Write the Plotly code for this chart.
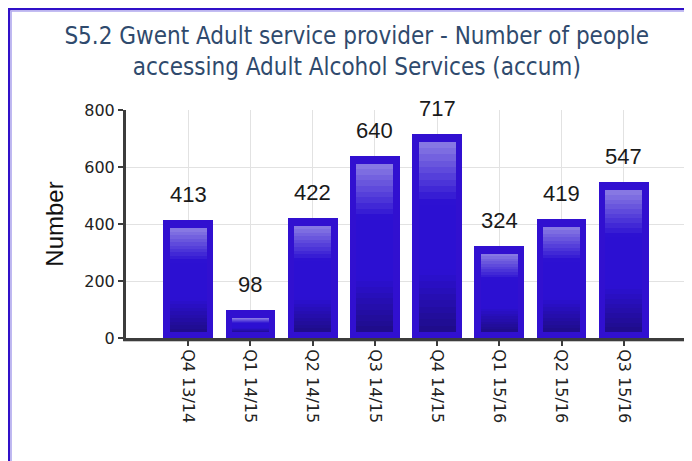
import plotly.graph_objects as go

quarters = ["Q4 13/14", "Q1 14/15", "Q2 14/15", "Q3 14/15",
            "Q4 14/15", "Q1 15/16", "Q2 15/16", "Q3 15/16"]
people = [413, 98, 422, 640, 717, 324, 419, 547]

TITLE = "S5.2 Gwent Adult service provider - Number of people<br>accessing Adult Alcohol Services (accum)"
Y_TITLE = "Number"

OUTER = "#3110d0"
DARK = (30, 12, 136)
MID = (44, 16, 210)
LIGHT = (140, 126, 228)

# px -> data units: plot is 228px tall for 800
UNIT = 800 / 228
INSET_TOP = 8 * UNIT
INSET_BOT = 6 * UNIT
N_SEG = 30


def mix(a, b, t):
    return "rgb(%d,%d,%d)" % tuple(round(a[i] + (b[i] - a[i]) * t) for i in range(3))


def seg_color(t):
    # t: 0 at bottom of inner bar, 1 at top
    if t < 0.32:
        return mix(DARK, MID, t / 0.32)
    if t < 0.68:
        return mix(MID, MID, 0)
    return mix(MID, LIGHT, (t - 0.68) / 0.32)


fig = go.Figure()
fig.add_trace(go.Bar(
    x=quarters, y=people, width=0.8,
    marker=dict(color=OUTER, line_width=0),
    hoverinfo="x+y", showlegend=False,
))

inner_base = [INSET_BOT for v in people]
inner_h = [max(v - INSET_TOP - INSET_BOT, 0) for v in people]
for k in range(N_SEG):
    fig.add_trace(go.Bar(
        x=quarters,
        y=[h / N_SEG for h in inner_h],
        base=[b + h * k / N_SEG for b, h in zip(inner_base, inner_h)],
        width=0.595,
        marker=dict(color=seg_color((k + 0.5) / N_SEG), line_width=0),
        hoverinfo="skip", showlegend=False,
    ))

for q, v in zip(quarters, people):
    fig.add_annotation(
        x=q, y=v, text=str(v), showarrow=False, yanchor="bottom", yshift=11,
        font=dict(family="Liberation Sans, Arial", size=22, color="#1a1a1a"),
    )

# outer frame (blue, with a light inner edge)
fig.add_shape(type="rect", xref="paper", yref="paper",
              x0=-0.2089, x1=1.1, y0=-0.7, y1=1.443,
              line=dict(color="#3010c8", width=2.5), layer="above")
fig.add_shape(type="rect", xref="paper", yref="paper",
              x0=-0.2050, x1=1.1, y0=-0.7, y1=1.434,
              line=dict(color="#b0a8ee", width=1.2), layer="above")
# right edge of the plot area
fig.add_shape(type="line", xref="paper", yref="paper",
              x0=1, x1=1, y0=0, y1=1,
              line=dict(color="#e2e2e2", width=1), layer="below")
# light shadow under the x axis
fig.add_shape(type="line", xref="paper", yref="paper",
              x0=-0.005, x1=1, y0=-0.013, y1=-0.013,
              line=dict(color="#b4b4b4", width=1.5), layer="below")

tick_font = dict(family="DejaVu Sans, Verdana", size=16, color="#222222")

fig.update_layout(
    width=692, height=461,
    barmode="overlay",
    bargap=0,
    paper_bgcolor="white",
    plot_bgcolor="white",
    margin=dict(l=118, r=14, t=102, b=131),
    title=dict(
        text=TITLE,
        x=0.504, xref="container", xanchor="center",
        y=1 - 36 / 461, yref="container", yanchor="top",
        font=dict(family="DejaVu Sans Condensed, Liberation Sans Narrow, Arial",
                  size=24, color="#2f4a6d"),
    ),
    xaxis=dict(
        type="category", range=[-1, 8],
        tickangle=90, tickfont=tick_font,
        showgrid=True, gridcolor="#e2e2e2", gridwidth=1,
        showline=True, linecolor="#3c3c3c", linewidth=3,
        ticks="outside", ticklen=5, tickwidth=2, tickcolor="#3c3c3c",
        zeroline=False,
    ),
    yaxis=dict(
        range=[0, 800], tickvals=[0, 200, 400, 600, 800],
        tickfont=tick_font,
        showgrid=True, gridcolor="#e2e2e2", gridwidth=1,
        showline=True, linecolor="#3c3c3c", linewidth=3,
        ticks="outside", ticklen=5, tickwidth=2, tickcolor="#3c3c3c",
        zeroline=False,
        title=dict(text=Y_TITLE, standoff=14,
                   font=dict(family="Liberation Sans, Arial", size=24, color="#111111")),
    ),
)

fig.write_html("out.html")
